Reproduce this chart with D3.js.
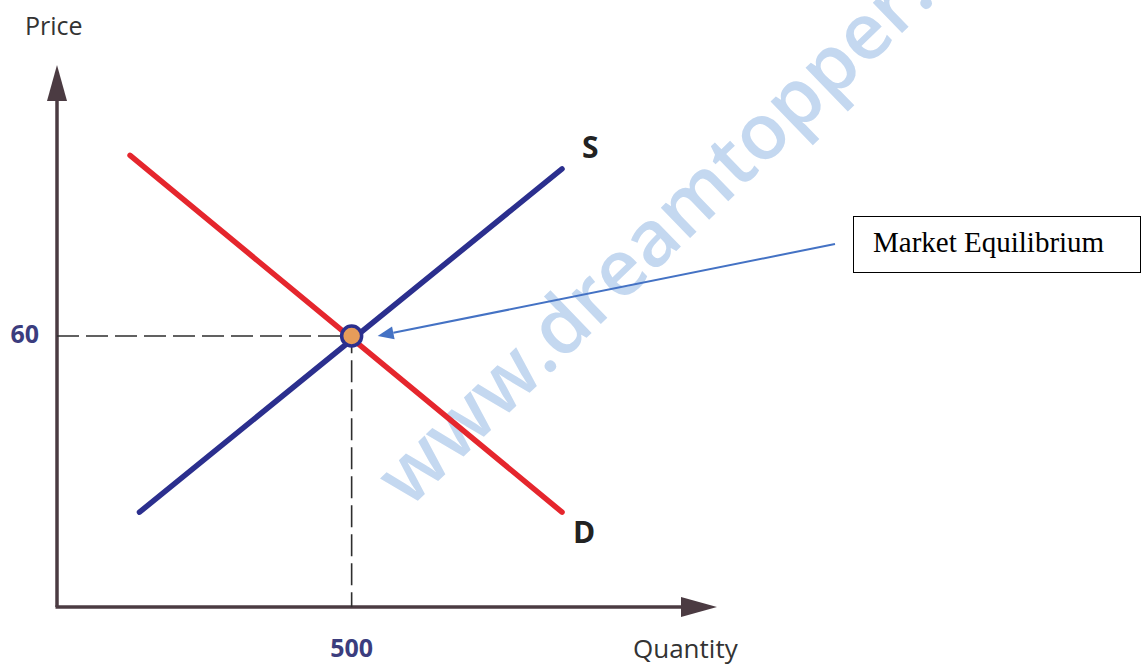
<!DOCTYPE html>
<html>
<head>
<meta charset="utf-8">
<title>Market Equilibrium</title>
<script src="https://d3js.org/d3.v7.min.js"></script>
<style>
  html, body { margin: 0; padding: 0; background: #fff; }
  svg { display: block; }
  .lbl { font-family: "Open Sans", sans-serif; fill: #333; }
</style>
</head>
<body>
<svg id="chart" width="1142" height="668"></svg>
<script>
// data, in (quantity, price) units
var supply = [{q: 140, p: 21}, {q: 857, p: 97}];
var demand = [{q: 124, p: 100}, {q: 857, p: 21}];
var equilibrium = {q: 500, p: 60};
var xTicks = [500];
var yTicks = [60];
var curveNames = ["S", "D"];
var axisTitles = ["Quantity", "Price"];
var noteText = "Market Equilibrium";

var width = 1142, height = 668;

var x = d3.scaleLinear().domain([0, 1120]).range([57, 717]);
var y = d3.scaleLinear().domain([0, 120]).range([607, 65]);

var svg = d3.select("#chart");

// watermark, behind everything. anchored so the dot after "www" sits near (546,377)
var wmAngle = -44, wmSize = 78;
var wm = svg.append("text")
    .style("font-family", "'Open Sans', sans-serif")
    .style("font-size", wmSize + "px")
    .style("font-weight", 600)
    .style("fill", "#c4d8f0")
    .text("www");
var wLen = wm.node().getComputedTextLength();
var rad = wmAngle * Math.PI / 180;
var wx = 546 - wLen * Math.cos(rad), wy = 377 - wLen * Math.sin(rad);
wm.attr("transform", "translate(" + wx + "," + wy + ") rotate(" + wmAngle + ")")
    .text("www.dreamtopper.in");

// axes with arrow heads
var axisColor = "#4b3b42";
function arrowHead(tipX, tipY, dir) {
    // dir: "up" or "right"
    var len = 36, half = 10;
    if (dir == "up")
        return [[tipX, tipY], [tipX - half, tipY + len], [tipX + half, tipY + len]];
    return [[tipX, tipY], [tipX - len, tipY - half], [tipX - len, tipY + half]];
}

svg.append("line")
    .attr("x1", x(0)).attr("y1", y(0))
    .attr("x2", x(0)).attr("y2", y(120) + 30)
    .attr("stroke", axisColor).attr("stroke-width", 3.5);
svg.append("line")
    .attr("x1", x(0) - 1.5).attr("y1", y(0))
    .attr("x2", x(1120) - 30).attr("y2", y(0))
    .attr("stroke", axisColor).attr("stroke-width", 3.5);
svg.append("polygon")
    .attr("points", arrowHead(x(0), y(120), "up").join(" "))
    .attr("fill", axisColor);
svg.append("polygon")
    .attr("points", arrowHead(x(1120), y(0), "right").join(" "))
    .attr("fill", axisColor);

// dashed guides to the equilibrium
svg.append("path")
    .attr("d", "M" + x(0) + "," + y(equilibrium.p) + "H" + x(equilibrium.q) + "V" + y(0))
    .attr("fill", "none")
    .attr("stroke", "#2e2e2e")
    .attr("stroke-width", 1.6)
    .attr("stroke-dasharray", "22,7");

// curves
var line = d3.line().x(function(d) { return x(d.q); }).y(function(d) { return y(d.p); });

svg.append("path")
    .datum(demand)
    .attr("d", line)
    .attr("fill", "none")
    .attr("stroke", "#e5262d")
    .attr("stroke-width", 5.5)
    .attr("stroke-linecap", "round");

svg.append("path")
    .datum(supply)
    .attr("d", line)
    .attr("fill", "none")
    .attr("stroke", "#2b2f8e")
    .attr("stroke-width", 5.5)
    .attr("stroke-linecap", "round");

// equilibrium point
svg.append("circle")
    .attr("cx", x(equilibrium.q))
    .attr("cy", y(equilibrium.p))
    .attr("r", 10)
    .attr("fill", "#e69c5a")
    .attr("stroke", "#2b2f8e")
    .attr("stroke-width", 3.5);

// curve labels
var sEnd = supply[supply.length - 1], dEnd = demand[demand.length - 1];
svg.append("text")
    .attr("class", "lbl")
    .attr("x", x(sEnd.q) + 20).attr("y", y(sEnd.p) - 11)
    .style("font-size", "30px").style("font-weight", 700).style("fill", "#222")
    .text(curveNames[0]);
svg.append("text")
    .attr("class", "lbl")
    .attr("x", x(dEnd.q) + 11).attr("y", y(dEnd.p) + 31)
    .style("font-size", "30px").style("font-weight", 700).style("fill", "#222")
    .text(curveNames[1]);

// tick labels
svg.selectAll(".xtick")
    .data(xTicks).enter().append("text")
    .attr("class", "lbl xtick")
    .attr("x", function(d) { return x(d); })
    .attr("y", 657)
    .attr("text-anchor", "middle")
    .style("font-size", "25px").style("font-weight", 700).style("fill", "#3b3d7e")
    .text(function(d) { return d; });

svg.selectAll(".ytick")
    .data(yTicks).enter().append("text")
    .attr("class", "lbl ytick")
    .attr("x", 39)
    .attr("y", function(d) { return y(d) + 7; })
    .attr("text-anchor", "end")
    .style("font-size", "25px").style("font-weight", 700).style("fill", "#3b3d7e")
    .text(function(d) { return d; });

// axis titles
svg.append("text")
    .attr("class", "lbl")
    .attr("x", 633).attr("y", 658)
    .style("font-size", "26px")
    .text(axisTitles[0]);
svg.append("text")
    .attr("class", "lbl")
    .attr("x", 25).attr("y", 35)
    .style("font-size", "25px")
    .text(axisTitles[1]);

// callout
var note = {x: 853, y: 216, w: 287, h: 56, tailX: 835, tailY: 244};
var tipX = x(equilibrium.q) + 26, tipY = y(equilibrium.p);
var ang = Math.atan2(note.tailY - tipY, note.tailX - tipX);
var hl = 16, hw = 6.5;
var bx = tipX + hl * Math.cos(ang), by = tipY + hl * Math.sin(ang);

svg.append("line")
    .attr("x1", note.tailX).attr("y1", note.tailY)
    .attr("x2", bx).attr("y2", by)
    .attr("stroke", "#4472c4").attr("stroke-width", 2);
svg.append("polygon")
    .attr("points", [
        [tipX, tipY],
        [bx - hw * Math.sin(ang), by + hw * Math.cos(ang)],
        [bx + hw * Math.sin(ang), by - hw * Math.cos(ang)]
    ].join(" "))
    .attr("fill", "#4472c4");

svg.append("rect")
    .attr("x", note.x + 0.5).attr("y", note.y + 0.5)
    .attr("width", note.w).attr("height", note.h)
    .attr("fill", "#fff")
    .attr("stroke", "#000").attr("stroke-width", 1);
svg.append("text")
    .attr("x", note.x + 20).attr("y", note.y + 36)
    .style("font-family", "'Liberation Serif', 'Times New Roman', serif")
    .style("font-size", "29px")
    .style("fill", "#000")
    .text(noteText);
</script>
</body>
</html>
